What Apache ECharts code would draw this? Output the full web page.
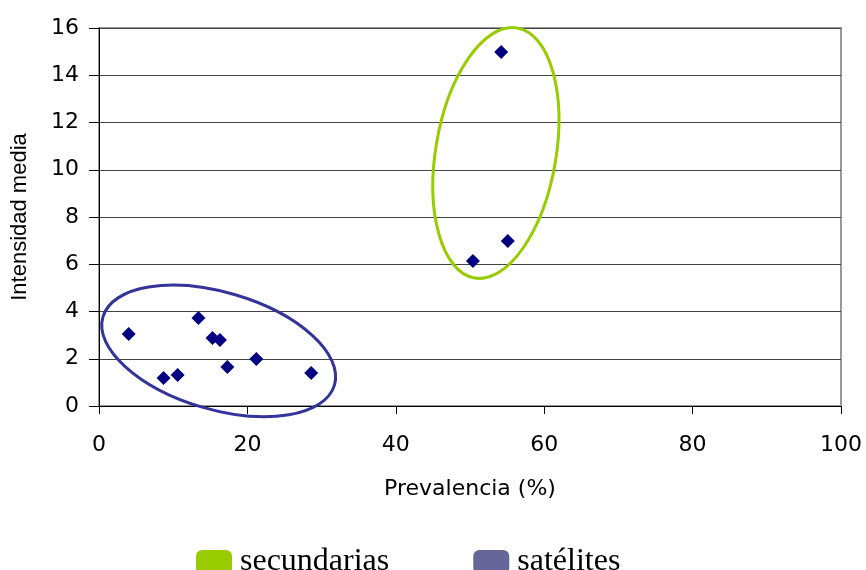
<!DOCTYPE html>
<html>
<head>
<meta charset="utf-8">
<script src="https://cdn.jsdelivr.net/npm/echarts@6/dist/echarts.min.js"></script>
<style>html,body{margin:0;padding:0;background:#fff}#c{width:866px;height:570px}</style>
</head>
<body>
<div id="c"></div>
<script>
// Data points: [prevalencia (%), intensidad media]
const prevalencia = [4.0, 8.7, 10.6, 13.4, 15.3, 16.3, 17.3, 21.2, 28.6, 50.4, 55.1, 54.2];
const intensidad  = [3.05, 1.18, 1.31, 3.72, 2.88, 2.79, 1.65, 1.99, 1.40, 6.14, 6.98, 14.98];

// Group names (legend)
const groupNames = ['secundarias', 'satélites'];
// Ellipses in data units: center, end of major semi-axis, end of minor semi-axis
const ellipseCenter = [[53.49, 10.71], [16.13, 2.33]];
const ellipseMajorEnd = [[56.36, 16.0], [31.73, 0.885]];
const ellipseMinorEnd = [[61.48, 10.28], [18.35, 4.71]];

const xTicks = [0, 20, 40, 60, 80, 100];
const yTicks = [0, 2, 4, 6, 8, 10, 12, 14, 16];

const ellipseColors = ['#99cc00', '#333399'];
const legendColors = ['#99cc00', '#666699'];

const points = prevalencia.map((x, i) => [x, intensidad[i]]);

function ellipseSeries(k) {
  const d = [ellipseCenter[k][0], ellipseCenter[k][1], ellipseMajorEnd[k][0], ellipseMajorEnd[k][1], ellipseMinorEnd[k][0], ellipseMinorEnd[k][1]];
  return {
    name: groupNames[k],
    type: 'custom',
    clip: false,
    z: 1,
    encode: { x: [0, 2, 4], y: [1, 3, 5] },
    data: [d],
    renderItem: function (params, api) {
      const c = api.coord([api.value(0), api.value(1)]);
      const a = api.coord([api.value(2), api.value(3)]);
      const b = api.coord([api.value(4), api.value(5)]);
      const ra = Math.hypot(a[0] - c[0], a[1] - c[1]);
      const rb = Math.hypot(b[0] - c[0], b[1] - c[1]);
      const ang = Math.atan2(a[1] - c[1], a[0] - c[0]);
      return {
        type: 'ellipse',
        x: c[0], y: c[1],
        rotation: -ang,
        shape: { cx: 0, cy: 0, rx: ra, ry: rb },
        style: { fill: null, stroke: ellipseColors[k], lineWidth: 3 }
      };
    }
  };
}

const chart = echarts.init(document.getElementById('c'), null, { renderer: 'canvas' });
chart.setOption({
  animation: false,
  backgroundColor: '#fff',
  grid: { left: 99, right: 25, top: 28, bottom: 164, show: true, borderColor: '#999', borderWidth: 2, containLabel: false },
  legend: {
    left: 191, top: 541,
    itemWidth: 36, itemHeight: 24, itemGap: 84,
    icon: 'roundRect',
    selectedMode: false,
    textStyle: { fontFamily: 'Liberation Serif', fontSize: 32, color: '#000', padding: [0, 0, 28, 3] },
    data: groupNames.map((n, i) => ({ name: n, itemStyle: { color: legendColors[i], borderWidth: 0 } }))
  },
  xAxis: {
    type: 'value', min: xTicks[0], max: xTicks[xTicks.length - 1], interval: 20,
    name: 'Prevalencia (%)', nameLocation: 'middle', nameGap: 72,
    nameTextStyle: { fontFamily: 'DejaVu Sans', fontSize: 22, color: '#000' },
    axisLine: { show: true, onZero: false, lineStyle: { color: '#000', width: 1 } },
    axisTick: { show: true, inside: false, length: 8, lineStyle: { color: '#000' } },
    axisLabel: { margin: 28, fontFamily: 'DejaVu Sans', fontSize: 22, color: '#000' },
    splitLine: { show: false }
  },
  yAxis: {
    type: 'value', min: yTicks[0], max: yTicks[yTicks.length - 1], interval: 2,
    name: 'Intensidad media', nameLocation: 'middle', nameGap: 68,
    nameTextStyle: { fontFamily: 'Liberation Sans', fontSize: 22, color: '#000' },
    axisLine: { show: true, onZero: false, lineStyle: { color: '#000', width: 1 } },
    axisTick: { show: true, inside: false, length: 10, lineStyle: { color: '#000' } },
    axisLabel: { margin: 20, fontFamily: 'DejaVu Sans', fontSize: 22, color: '#000' },
    splitLine: { show: true, lineStyle: { color: '#444', width: 1 } }
  },
  series: [
    ellipseSeries(0),
    ellipseSeries(1),
    {
      name: 'puntos', type: 'scatter', symbol: 'diamond', symbolSize: 14, z: 3,
      itemStyle: { color: '#000080', opacity: 1 },
      data: points
    }
  ]
});
</script>
</body>
</html>
